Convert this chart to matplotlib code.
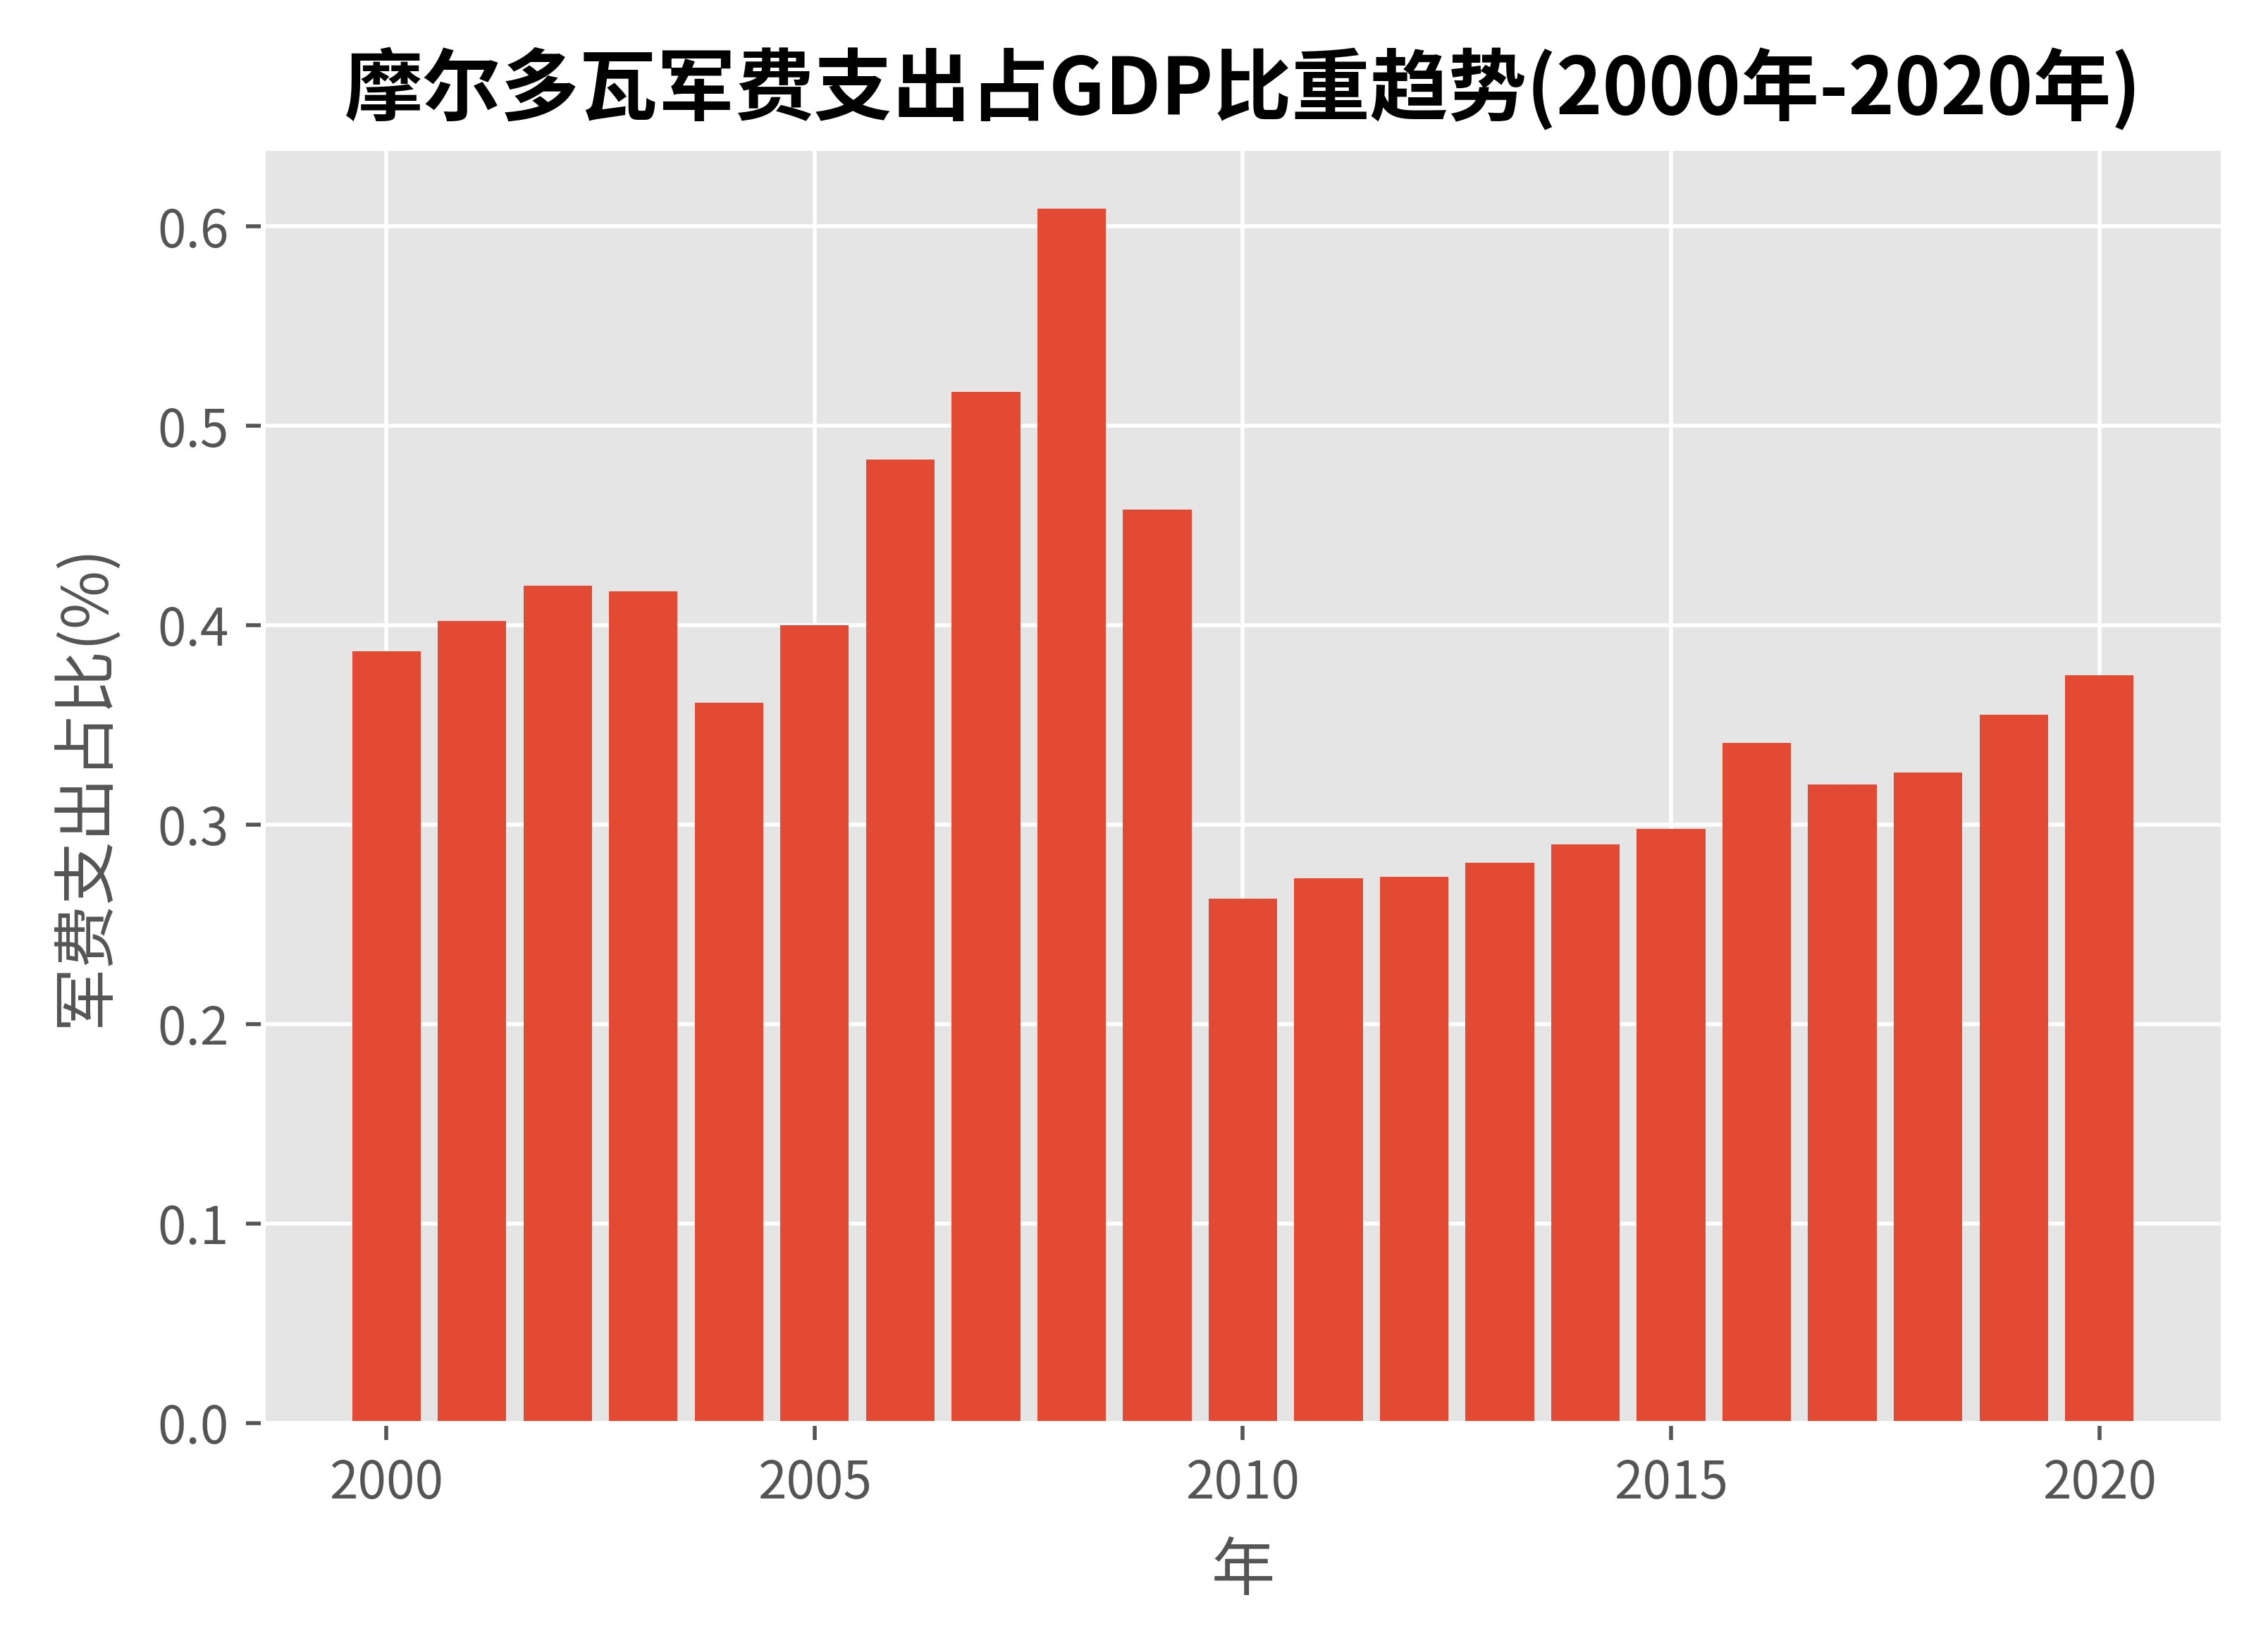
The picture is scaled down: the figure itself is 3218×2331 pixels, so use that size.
import matplotlib
matplotlib.use("Agg")
import matplotlib.pyplot as plt

# 摩尔多瓦军费支出占GDP比重 (%)
years = list(range(2000, 2021))
share = [0.387, 0.402, 0.420, 0.417, 0.361, 0.400, 0.483, 0.517, 0.609, 0.458,
         0.263, 0.273, 0.274, 0.281, 0.290, 0.298, 0.341, 0.320, 0.326, 0.355,
         0.375]

plt.style.use("ggplot")
plt.rcParams["font.family"] = ["Noto Sans CJK SC", "DejaVu Sans"]
plt.rcParams["axes.unicode_minus"] = False

fig = plt.figure(figsize=(6.436, 4.662), dpi=500)
ax = fig.add_axes([0.116, 0.134, 0.864, 0.776])

ax.bar(years, share, color="#E24A33")
ax.set_title("摩尔多瓦军费支出占GDP比重趋势(2000年-2020年)", fontsize=16,
             fontweight="bold", pad=7)
ax.set_xlabel("年", fontsize=13, labelpad=6)
ax.set_ylabel("军费支出占比(%)", fontsize=13, labelpad=8)
ax.set_xticks([2000, 2005, 2010, 2015, 2020])
ax.set_yticks([0.0, 0.1, 0.2, 0.3, 0.4, 0.5, 0.6])
ax.set_yticklabels(["0.0", "0.1", "0.2", "0.3", "0.4", "0.5", "0.6"])
ax.tick_params(labelsize=10.5)

fig.savefig("out.png", dpi=500)
